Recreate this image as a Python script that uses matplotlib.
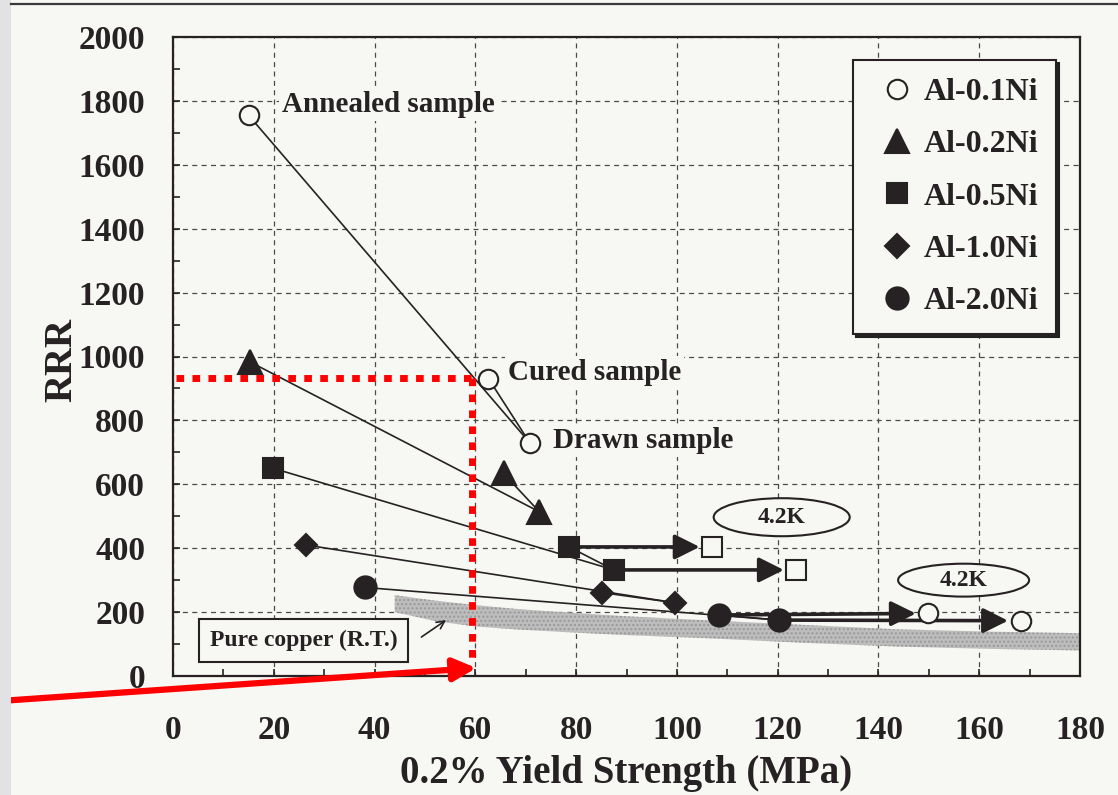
import matplotlib
matplotlib.use('Agg')
import matplotlib.pyplot as plt
from matplotlib.patches import Ellipse, Rectangle
from matplotlib.lines import Line2D
from matplotlib.font_manager import FontProperties

# ---------------- data ----------------
sample_labels = ['Annealed sample', 'Cured sample', 'Drawn sample']
al01_x = [15.0, 62.6, 70.8]
al01_y = [1755, 931, 730]
al02_x = [15.3, 65.6, 72.7]
al02_y = [983, 634, 514]
al05_x = [19.9, 78.6, 87.5]
al05_y = [650, 404, 332]
al10_x = [26.4, 85.2, 99.7]
al10_y = [410, 261, 229]
al20_x = [38.1, 108.4, 120.3]
al20_y = [277, 191, 175]
# 4.2K measurements (open markers)
al05_42k_x = [107.0, 123.7]
al05_42k_y = [404, 332]
al20_42k_x = [149.9, 168.2]
al20_42k_y = [196, 173]
# pure copper band (R.T.)
cu_x = [44, 52, 60, 68, 77, 90, 105, 125, 144, 162, 180]
cu_hi = [253, 236, 222, 210, 200, 187, 175, 160, 146, 139, 134]
cu_lo = [200, 172, 155, 146, 138, 128, 119, 104, 92, 85, 80]
legend_labels = ['Al-0.1Ni', 'Al-0.2Ni', 'Al-0.5Ni', 'Al-1.0Ni', 'Al-2.0Ni']
x_ticks = list(range(0, 181, 20))
y_ticks = list(range(0, 2001, 200))
red_x = 59.3
red_y = 933

# ---------------- style ----------------
W, H = 1118, 795
paper = '#f7f7f3'
dark = '#262224'
FONT = 'Liberation Serif'
plt.rcParams['font.family'] = [FONT, 'DejaVu Serif']
plt.rcParams['font.weight'] = 'bold'

fig = plt.figure(figsize=(W / 100, H / 100), dpi=100)
fig.patch.set_facecolor(paper)
# scan artefacts: left grey strip and top rule
fig.patches.append(Rectangle((0, 0), 11 / W, 1, transform=fig.transFigure,
                             facecolor='#e2e2e4', edgecolor='none', zorder=0))
fig.add_artist(Line2D([11 / W, 1], [1 - 4 / H, 1 - 4 / H], transform=fig.transFigure,
                      color='#3a3a3a', lw=1.6))

L, R, T, B = 173, 1080, 37, 676
ax = fig.add_axes([L / W, 1 - B / H, (R - L) / W, (B - T) / H])
ax.set_facecolor(paper)
ax.set_xlim(0, 180)
ax.set_ylim(0, 2000)
ax.set_xticks(x_ticks)
ax.set_yticks(y_ticks)
ax.set_xticks(range(10, 180, 20), minor=True)
ax.set_yticks(range(100, 2000, 200), minor=True)
ax.tick_params(which='both', direction='in', length=5, width=1.2, color=dark,
               top=False, right=False)
ax.tick_params(axis='x', which='major', pad=28, labelsize=24, labelcolor=dark)
ax.tick_params(axis='y', which='major', pad=20, labelsize=24, labelcolor=dark)
for lab in ax.get_xticklabels() + ax.get_yticklabels():
    lab.set_fontweight('bold')
for s in ax.spines.values():
    s.set_linewidth(1.6)
    s.set_color(dark)
ax.set_axisbelow(True)
ax.grid(True, which='major', ls=(0, (4, 3.5)), color='#4a4a4a', lw=0.9)

ax.set_xlabel('0.2% Yield Strength (MPa)', fontsize=28, fontweight='bold', color=dark)
ax.xaxis.set_label_coords(0.5, (B - 774) / (B - T))
ax.xaxis.label.set_va('center')
ax.set_ylabel('RRR', fontsize=28, fontweight='bold', color=dark)
ax.yaxis.set_label_coords((62 - L) / (R - L), (B - 360) / (B - T))
ax.yaxis.label.set_va('center')

# pure copper band
ax.fill_between(cu_x, cu_lo, cu_hi, facecolor='#bdbdbd', edgecolor='none', zorder=1)
ax.fill_between(cu_x, cu_lo, cu_hi, facecolor='none', edgecolor='#999999', hatch='....',
                lw=0, zorder=1)

# connecting lines (first -> last, second -> last)
line_kw = dict(color=dark, lw=1.2, zorder=3)
for xs, ys in [(al01_x, al01_y), (al02_x, al02_y), (al05_x, al05_y),
               (al10_x, al10_y), (al20_x, al20_y)]:
    ax.plot([xs[0], xs[2]], [ys[0], ys[2]], **line_kw)
    ax.plot([xs[1], xs[2]], [ys[1], ys[2]], **line_kw)

# 4.2K arrows
arr_kw = dict(arrowstyle='-|>', lw=2.6, color=dark, mutation_scale=38, shrinkA=0, shrinkB=9)
for i in range(2):
    ax.annotate('', xy=(al05_42k_x[i], al05_42k_y[i]), xytext=(al05_x[i + 1], al05_y[i + 1]),
                arrowprops=arr_kw, zorder=3.5)
    ax.annotate('', xy=(al20_42k_x[i], al20_42k_y[i]), xytext=(al20_x[i + 1], al20_y[i + 1]),
                arrowprops=arr_kw, zorder=3.5)

# markers
mk = dict(ls='none', mec=dark, mew=1.5, zorder=4)
ax.plot(al01_x, al01_y, marker='o', ms=14, mfc=paper, **mk)
ax.plot(al02_x, al02_y, marker='^', ms=17, mfc=dark, **mk)
ax.plot(al05_x, al05_y, marker='s', ms=14.5, mfc=dark, **mk)
ax.plot(al10_x, al10_y, marker='D', ms=11.5, mfc=dark, **mk)
ax.plot(al20_x, al20_y, marker='o', ms=16, mfc=dark, **mk)
ax.plot(al05_42k_x, al05_42k_y, marker='s', ms=14, mfc=paper, **mk)
ax.plot(al20_42k_x, al20_42k_y, marker='o', ms=14, mfc=paper, **mk)

# sample labels
txt_kw = dict(fontsize=21, fontweight='bold', color=dark, ha='left', va='center', zorder=5,
              bbox=dict(boxstyle='square,pad=0.1', fc=paper, ec='none'))
ax.text(21.6, 1790, sample_labels[0], **txt_kw)
ax.text(66.5, 951, sample_labels[1], **txt_kw)
ax.text(75.5, 738, sample_labels[2], **txt_kw)

# 4.2K ellipses
for cx, cy, ew, eh in [(120.8, 497, 27, 119), (156.9, 300, 26, 103)]:
    ax.add_patch(Ellipse((cx, cy), ew, eh, facecolor=paper, edgecolor=dark, lw=1.5, zorder=5))
    ax.text(cx, cy, '4.2K', fontsize=17, fontweight='bold', color=dark,
            ha='center', va='center', zorder=6)

# pure copper label
ax.text(25.9, 111, 'Pure copper (R.T.)', fontsize=17, fontweight='bold', color=dark,
        ha='center', va='center', zorder=5,
        bbox=dict(boxstyle='square,pad=0.45', fc=paper, ec=dark, lw=1.5))
ax.annotate('', xy=(54.2, 175), xytext=(49.3, 122),
            arrowprops=dict(arrowstyle='->', lw=1.2, color=dark, mutation_scale=14,
                            shrinkA=0, shrinkB=0), zorder=5)

# legend
handles = [
    Line2D([], [], marker='o', ms=14, mfc=paper, ls='none', mec=dark, mew=1.5),
    Line2D([], [], marker='^', ms=17, mfc=dark, ls='none', mec=dark, mew=1.5),
    Line2D([], [], marker='s', ms=14.5, mfc=dark, ls='none', mec=dark, mew=1.5),
    Line2D([], [], marker='D', ms=12, mfc=dark, ls='none', mec=dark, mew=1.5),
    Line2D([], [], marker='o', ms=16, mfc=dark, ls='none', mec=dark, mew=1.5),
]
leg = ax.legend(handles, legend_labels, loc='upper right',
                bbox_to_anchor=((1056 - L) / (R - L), (B - 60) / (B - T)),
                frameon=True, fancybox=False, shadow={'color': '#222222', 'alpha': 1.0},
                edgecolor=dark, facecolor=paper, framealpha=1,
                prop=FontProperties(family=FONT, weight='bold', size=23),
                handlelength=1.6, handletextpad=0.05, labelspacing=0.72,
                borderpad=0.55, borderaxespad=0, numpoints=1)
leg.get_frame().set_linewidth(1.5)
leg.set_zorder(6)
for t in leg.get_texts():
    t.set_color(dark)

# red overlay annotation
red_kw = dict(color='#ff0000', lw=5, ls=(0, (1.1, 1.2)), dash_capstyle='butt',
              zorder=10, clip_on=False)
ax.plot([0.6, red_x], [red_y, red_y], **red_kw)
ax.plot([red_x, red_x], [red_y, 40], **red_kw)
ax.annotate('', xy=(60.2, 25), xycoords='data', xytext=(0, 1 - 701 / H),
            textcoords='figure fraction',
            arrowprops=dict(arrowstyle='-|>', color='#ff0000', lw=4.5, mutation_scale=34,
                            shrinkA=0, shrinkB=0),
            annotation_clip=False, zorder=11)

fig.savefig('out.png', dpi=100, facecolor=paper)
